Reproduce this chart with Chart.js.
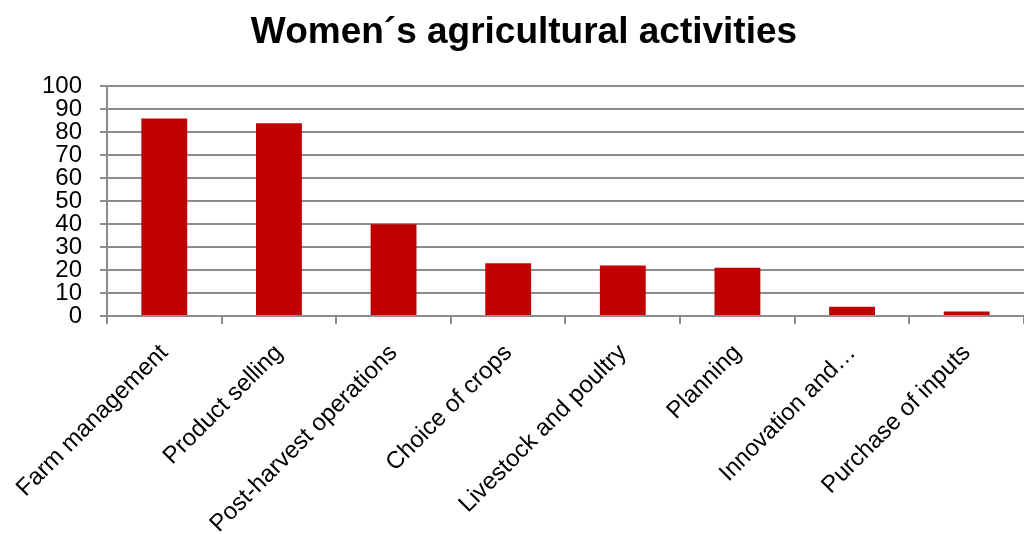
<!DOCTYPE html>
<html>
<head>
<meta charset="utf-8">
<script src="https://cdn.jsdelivr.net/npm/chart.js@4/dist/chart.umd.min.js"></script>
<style>
  html, body { margin: 0; padding: 0; background: #fff; }
  #wrap { width: 1024px; height: 534px; position: relative; }
</style>
</head>
<body>
<div id="wrap"><canvas id="chart"></canvas></div>
<script>
// activities and share of women involved (%)
const activities = [
  'Farm management', 'Product selling', 'Post-harvest operations', 'Choice of crops',
  'Livestock and poultry', 'Planning', 'Innovation and…', 'Purchase of inputs'
];
const shares = [86, 84, 40, 23, 22, 21, 4, 2];
const yTicks = [0, 10, 20, 30, 40, 50, 60, 70, 80, 90, 100];

const FONT = '"Liberation Sans", Arial, sans-serif';
const GRID = '#8c8c8c';

new Chart(document.getElementById('chart'), {
  type: 'bar',
  data: {
    labels: activities,
    datasets: [{
      data: shares,
      backgroundColor: '#c00000',
      borderWidth: 0,
      categoryPercentage: 1,
      barPercentage: 0.4,
    }]
  },
  options: {
    responsive: true,
    maintainAspectRatio: false,
    animation: false,
    layout: { padding: { left: 24, right: 0, top: 0, bottom: 0 } },
    plugins: {
      legend: { display: false },
      tooltip: { enabled: false },
      title: {
        display: true,
        text: 'Women´s agricultural activities',
        color: '#000',
        font: { family: FONT, size: 37, weight: 'bold' },
        padding: { top: 11, bottom: 31 },
      }
    },
    scales: {
      y: {
        min: 0,
        max: 100,
        afterBuildTicks: axis => { axis.ticks = yTicks.map(v => ({ value: v })); },
        afterFit: axis => { axis.width = 71; },
        ticks: { color: '#000', font: { family: FONT, size: 24 }, padding: 18, autoSkip: false },
        grid: { color: GRID, lineWidth: 2, tickLength: 7 },
        border: { color: GRID, width: 2 },
      },
      x: {
        afterFit: axis => { axis.height = 218; },
        ticks: {
          color: '#000',
          font: { family: FONT, size: 24 },
          maxRotation: 45,
          minRotation: 45,
          autoSkip: false,
          padding: 15,
        },
        grid: { drawOnChartArea: false, color: GRID, lineWidth: 2, tickLength: 8 },
        border: { color: GRID, width: 2 },
      }
    }
  }
});
</script>
</body>
</html>
